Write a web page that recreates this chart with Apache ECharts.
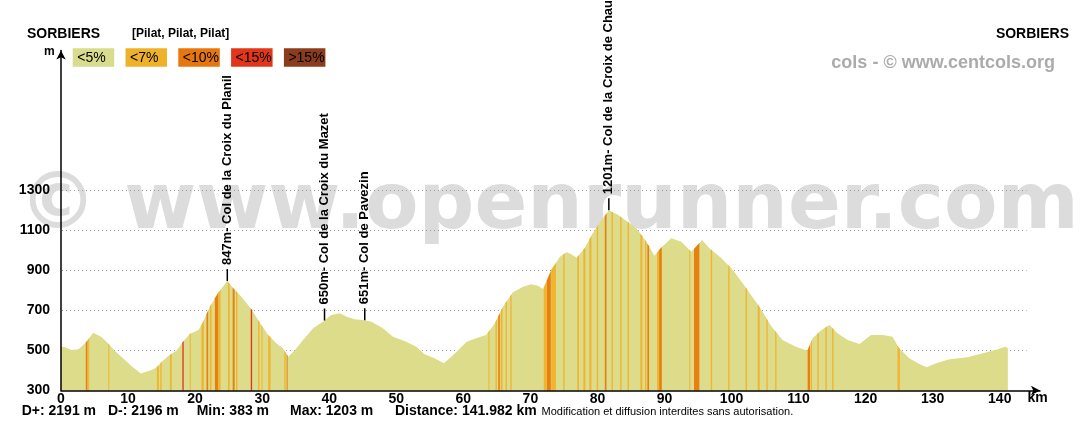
<!DOCTYPE html>
<html><head><meta charset="utf-8">
<script src="https://cdn.jsdelivr.net/npm/echarts@6/dist/echarts.min.js"></script>
<style>html,body{margin:0;padding:0;background:#fff}#c{width:1088px;height:429px}</style>
</head><body><div id="c"></div>
<script>
// ---- data ----
const profileKm = [0,0.6,1.6,2.6,3.6,4.8,6.1,7.0,8.0,9.0,10.5,11.9,12.5,13.5,14.3,15.0,16.2,17.2,18.2,19.2,20.5,21.2,22.2,23.4,24.8,25.7,26.9,28.4,29.7,30.9,32.1,33.1,33.9,34.9,36.1,37.6,39.3,40.3,41.6,42.6,43.8,45.3,46.3,48.0,49.5,51.5,53.0,54.2,55.7,57.1,58.5,60.5,61.9,63.4,64.7,65.9,67.4,68.9,70.1,71.1,71.9,73.1,74.4,75.4,76.1,76.9,78.1,79.3,80.6,81.7,83.1,84.5,85.8,87.3,88.5,89.5,91.0,92.5,94.0,94.6,95.6,96.7,98.5,100.2,102.2,104.2,105.9,107.6,109.6,111.3,112.1,113.4,114.6,115.8,117.3,119.1,120.8,122.5,124.0,125.0,126.5,128.0,129.1,130.5,132.5,135.2,137.5,139.7,140.8,141.2];
const profileElev = [520,516,502,506,536,589,566,536,499,469,422,385,391,402,416,444,477,499,544,582,602,644,719,786,847,811,769,706,636,577,536,511,469,502,552,611,650,677,686,669,656,651,644,611,569,544,519,481,461,436,477,544,561,577,636,719,791,819,831,824,807,902,969,991,981,964,1011,1086,1152,1201,1177,1144,1111,1044,974,1014,1061,1044,994,1015,1052,1011,961,902,811,716,622,552,519,499,561,602,627,586,552,532,577,577,569,511,461,432,416,436,456,466,486,506,519,512];

// gradient stripes: start km, end km, class (1:<7%, 2:<10%, 3:<15%)
const stripeFrom  = [3.7,4.05,7.05,14.3,14.8,16.25,18.1,19.2,20.95,21.7,22.2,22.95,23.45,24.9,25.6,26.1,28.3,29.4,29.9,30.9,33.3,33.65,63.75,64.8,65.2,65.6,66.3,67.0,72.0,72.45,73.1,74.9,77.0,77.9,78.8,79.9,81.1,82.1,83.4,84.5,86.4,87.1,87.45,88.9,89.2,93.7,94.4,96.9,99.5,102.1,103.9,105.2,106.5,111.35,111.8,112.8,114.0,115.0,124.75];
const stripeTo    = [3.95,4.2,7.2,14.6,15.0,16.5,18.3,19.35,21.3,21.95,22.45,23.45,23.8,25.15,25.9,26.3,28.5,29.6,30.05,31.25,33.5,33.8,63.9,65.0,65.45,65.85,66.5,67.2,72.4,73.05,73.8,75.1,77.25,78.2,79.1,80.1,81.35,82.3,83.6,84.7,86.7,87.3,87.7,89.2,89.6,93.85,95.2,97.1,99.7,102.3,104.2,105.4,106.7,111.7,112.0,113.0,114.2,115.2,125.1];
const stripeLevel = [2,1,1,1,1,1,3,1,1,2,1,2,1,1,2,1,3,1,1,1,1,2,1,1,2,1,1,1,1,2,1,1,1,1,1,1,2,1,1,1,1,1,2,1,2,1,2,1,1,1,1,1,1,2,1,1,1,1,1];

const colKm   = [24.8, 39.3, 45.3, 81.7];
const colElev = [847, 650, 651, 1201];
const colNames = ['847m- Col de la Croix du Planil','650m- Col de la Croix du Mazet','651m- Col de Pavezin','1201m- Col de la Croix de Chaubouret'];

const gridValues = [500, 700, 900, 1100, 1300];
const legendLabels = ['<5%', '<7%', '<10%', '<15%', '>15%'];
const legendColors = ['#d9dc8c', '#f0b12a', '#e8760f', '#e2361a', '#8a3c1c'];
const statTexts = ['D+: 2191 m', 'D-: 2196 m', 'Min: 383 m', 'Max: 1203 m', 'Distance: 141.982 km'];
const noticeText = 'Modification et diffusion interdites sans autorisation.';

// ---- chart ----
const FONT = '"Liberation Sans", Arial, sans-serif';
const baseColor = '#dcdc8a';
const classColors = ['#dcdc8a', '#f0b430', '#e8800f', '#e0361a', '#8a3c1c'];

function elevAt(k) {
  if (k <= profileKm[0]) return profileElev[0];
  for (let i = 1; i < profileKm.length; i++) {
    if (k <= profileKm[i]) {
      const t = (k - profileKm[i-1]) / (profileKm[i] - profileKm[i-1]);
      return profileElev[i-1] + t * (profileElev[i] - profileElev[i-1]);
    }
  }
  return profileElev[profileElev.length - 1];
}

const chart = echarts.init(document.getElementById('c'), null, {renderer: 'canvas'});

const graphics = [];
graphics.push({type: 'text', z: 0, x: 19, y: 208, style: {text: '\u00a9 www.openrunner.com', font: 'bold 78px "DejaVu Sans", sans-serif', fill: '#dcdcdc', align: 'left', verticalAlign: 'middle'}});
graphics.push({type: 'text', z: 10, x: 27, y: 34, style: {text: 'SORBIERS', font: 'bold 14px ' + FONT, fill: '#000', align: 'left', verticalAlign: 'middle'}});
graphics.push({type: 'text', z: 10, x: 132, y: 34, style: {text: '[Pilat, Pilat, Pilat]', font: 'bold 12px ' + FONT, fill: '#000', align: 'left', verticalAlign: 'middle'}});
graphics.push({type: 'text', z: 10, x: 1069, y: 34, style: {text: 'SORBIERS', font: 'bold 14px ' + FONT, fill: '#000', align: 'right', verticalAlign: 'middle'}});
graphics.push({type: 'text', z: 10, x: 1055, y: 63, style: {text: 'cols - \u00a9 www.centcols.org', font: 'bold 18px ' + FONT, fill: '#ababab', align: 'right', verticalAlign: 'middle'}});
graphics.push({type: 'text', z: 10, x: 44, y: 52, style: {text: 'm', font: 'bold 12px ' + FONT, fill: '#000', align: 'left', verticalAlign: 'middle'}});
graphics.push({type: 'text', z: 10, x: 1037.5, y: 398, style: {text: 'km', font: 'bold 14px ' + FONT, fill: '#000', align: 'center', verticalAlign: 'middle'}});
legendLabels.forEach((lab, i) => {
  const x0 = 72.7 + i * 52.8;
  graphics.push({type: 'rect', z: 10, shape: {x: x0, y: 48.3, width: 41.5, height: 18.5}, style: {fill: legendColors[i]}});
  graphics.push({type: 'text', z: 11, x: x0 + 4.5, y: 57.8, style: {text: lab, font: '14px ' + FONT, fill: '#000', align: 'left', verticalAlign: 'middle'}});
});
const statX = [21.7, 108, 196.7, 290, 395];
statTexts.forEach((t, i) => {
  graphics.push({type: 'text', z: 10, x: statX[i], y: 411.5, style: {text: t, font: 'bold 14px ' + FONT, fill: '#000', align: 'left', verticalAlign: 'middle'}});
});
graphics.push({type: 'text', z: 10, x: 541.5, y: 412, style: {text: noticeText, font: '11px ' + FONT, fill: '#000', align: 'left', verticalAlign: 'middle'}});

const option = {
  animation: false,
  backgroundColor: '#ffffff',
  grid: {left: 61, right: 48, top: 50.5, bottom: 38.5, containLabel: false},
  xAxis: {
    type: 'value', min: 0, max: 146, interval: 10, z: 5,
    axisLine: {show: true, lineStyle: {color: '#000', width: 1.5}, symbol: ['none', 'arrow'], symbolSize: [7, 9]},
    axisTick: {show: false},
    splitLine: {show: false},
    axisLabel: {color: '#000', fontWeight: 'bold', fontSize: 14, fontFamily: FONT, margin: 2,
      formatter: v => (v <= 140 ? String(v) : '')}
  },
  yAxis: {
    type: 'value', min: 300, max: 2000, interval: 200, z: 5,
    axisLine: {show: true, lineStyle: {color: '#000', width: 1.5}, symbol: ['none', 'arrow'], symbolSize: [7, 9]},
    axisTick: {show: false},
    splitLine: {show: false},
    axisLabel: {color: '#000', fontWeight: 'bold', fontSize: 14, fontFamily: FONT, margin: 11, padding: [0, 0, 8, 0],
      formatter: v => (v <= 1300 ? String(v) : '')}
  },
  graphic: graphics,
  series: [
    {
      type: 'custom', z: 1, silent: true, clip: false,
      data: gridValues.map(v => [0, v]),
      renderItem: (params, api) => {
        const v = api.value(1);
        const p1 = api.coord([0, v]);
        const p2 = api.coord([144, v]);
        return {type: 'line', shape: {x1: p1[0] + 1, y1: p1[1], x2: p2[0], y2: p2[1]},
          style: {stroke: '#9a9a9a', lineWidth: 1, lineDash: [1, 3]}};
      }
    },
    {
      type: 'line', z: 2, silent: true, symbol: 'none', smooth: false,
      data: profileKm.map((k, i) => [k, profileElev[i]]),
      lineStyle: {width: 0, opacity: 0},
      areaStyle: {color: baseColor, opacity: 1}
    },
    {
      type: 'custom', z: 3, silent: true, clip: false,
      data: stripeFrom.map((a, i) => [a, stripeTo[i], stripeLevel[i]]),
      renderItem: (params, api) => {
        const a = api.value(0), b = api.value(1), c = api.value(2);
        const pts = [api.coord([a, 300]), api.coord([a, elevAt(a)])];
        for (let i = 0; i < profileKm.length; i++) {
          if (profileKm[i] > a && profileKm[i] < b) pts.push(api.coord([profileKm[i], profileElev[i]]));
        }
        pts.push(api.coord([b, elevAt(b)]));
        pts.push(api.coord([b, 300]));
        return {type: 'polygon', shape: {points: pts}, style: {fill: classColors[c]}};
      }
    },
    {
      type: 'custom', z: 4, silent: true, clip: false,
      data: colKm.map((k, i) => [k, colElev[i], i]),
      renderItem: (params, api) => {
        const p = api.coord([api.value(0), api.value(1)]);
        const idx = api.value(2);
        return {type: 'group', children: [
          {type: 'line', shape: {x1: p[0], y1: p[1], x2: p[0], y2: p[1] - 12}, style: {stroke: '#000', lineWidth: 1.5}},
          {type: 'text', x: p[0], y: p[1] - 16, rotation: Math.PI / 2,
            style: {text: colNames[idx], font: 'bold 13px ' + FONT, fill: '#000', align: 'left', verticalAlign: 'middle'}}
        ]};
      }
    }
  ]
};
chart.setOption(option);
</script>
</body></html>
